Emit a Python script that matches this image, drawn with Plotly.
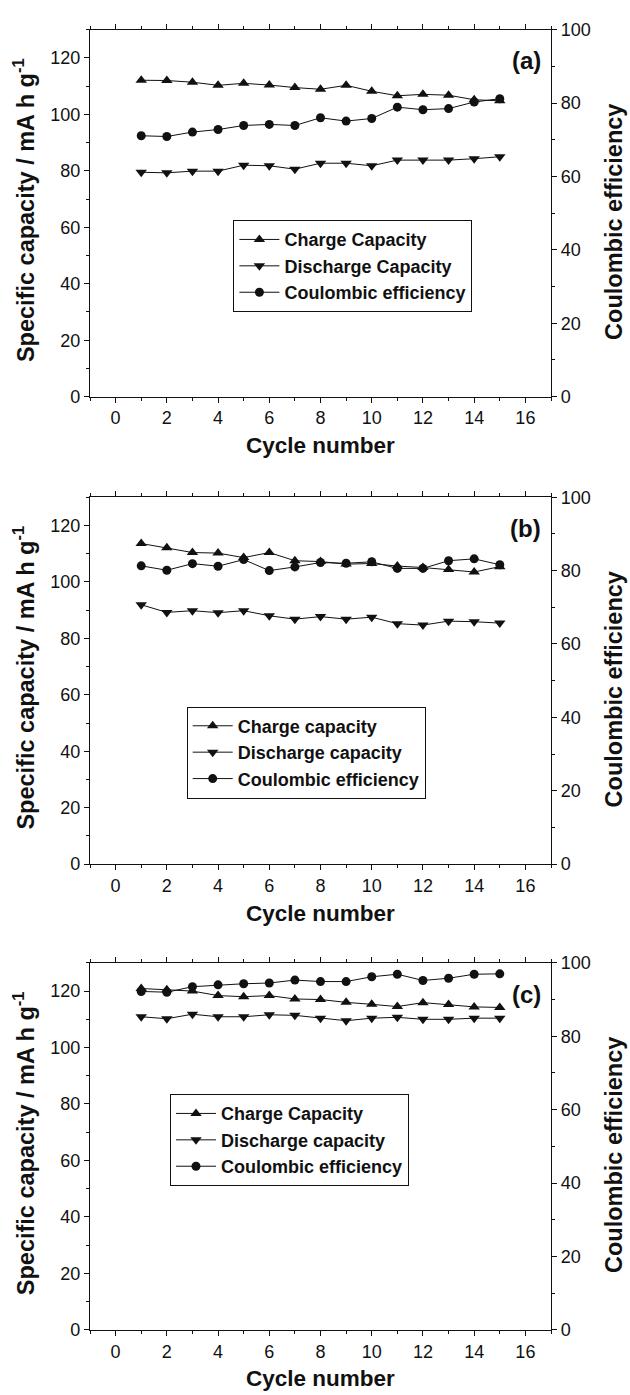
import plotly.graph_objects as go

cycles = list(range(1, 16))

# Panel (a)
charge_a = [112.1, 112.0, 111.4, 110.3, 111.0, 110.4, 109.5, 108.9, 110.3, 108.2, 106.6, 107.1, 106.8, 105.2, 104.8]
discharge_a = [79.5, 79.3, 79.9, 79.9, 82.0, 81.8, 80.6, 82.7, 82.7, 81.8, 83.8, 83.8, 83.8, 84.3, 85.0]
ce_a = [71.1, 70.9, 72.1, 72.8, 73.9, 74.2, 73.9, 76.0, 75.1, 75.8, 78.9, 78.2, 78.5, 80.3, 81.2]

# Panel (b)
charge_b = [113.6, 112.1, 110.4, 110.2, 108.6, 110.4, 107.5, 107.2, 106.3, 106.5, 105.6, 105.1, 104.4, 103.5, 105.4]
discharge_b = [91.9, 89.2, 89.8, 89.1, 89.8, 88.0, 86.8, 87.7, 86.8, 87.5, 85.2, 84.7, 86.1, 85.9, 85.4]
ce_b = [81.3, 80.1, 81.9, 81.2, 83.0, 80.0, 81.0, 82.2, 82.0, 82.4, 80.6, 80.6, 82.7, 83.2, 81.6]

# Panel (c)
charge_c = [120.9, 120.5, 120.0, 118.4, 118.0, 118.4, 117.2, 117.0, 116.0, 115.3, 114.5, 115.9, 115.2, 114.4, 114.2]
discharge_c = [110.9, 110.2, 111.8, 110.9, 110.9, 111.6, 111.4, 110.4, 109.5, 110.4, 110.7, 110.0, 110.0, 110.4, 110.4]
ce_c = [92.2, 92.0, 93.5, 94.0, 94.3, 94.5, 95.3, 94.9, 94.9, 96.2, 96.9, 95.2, 95.8, 96.9, 97.0]

names_a = ["Charge Capacity", "Discharge Capacity", "Coulombic efficiency"]
names_b = ["Charge capacity", "Discharge capacity", "Coulombic efficiency"]
names_c = ["Charge Capacity", "Discharge capacity", "Coulombic efficiency"]
panel_labels = ["(a)", "(b)", "(c)"]

x_title = "Cycle number"
y_left_title = "Specific capacity / mA h g<sup>-1</sup>"
y_right_title = "Coulombic efficiency"

W, H = 630, 1395
FONT = "Liberation Sans, Arial, Helvetica, sans-serif"
INK = "#111111"

def py(px):
    return 1 - px / H

def pxx(px):
    return px / W

# pixel geometry of panels
plot_left, plot_right = 90, 551
panel_tops = [20, 494.3, 966.7]
panel_h = 372.3

fig = go.Figure()

panels = [
    (charge_a, discharge_a, ce_a, names_a),
    (charge_b, discharge_b, ce_b, names_b),
    (charge_c, discharge_c, ce_c, names_c),
]

legend_pos = [(233.4, 213.3), (186.7, 706.7), (170.0, 1100.0)]

for i, (ch, dis, ce, names) in enumerate(panels):
    xa = "x" if i == 0 else f"x{i+1}"
    yl = "y" if i == 0 else f"y{2*i+1}"
    yr = f"y{2*i+2}"
    lg = "legend" if i == 0 else f"legend{i+1}"
    line = dict(color=INK, width=1)
    fig.add_trace(go.Scatter(x=cycles, y=ch, name=names[0], mode="lines+markers",
                             xaxis=xa, yaxis=yl, legend=lg, line=line,
                             marker=dict(symbol="triangle-up", size=10, color=INK)))
    fig.add_trace(go.Scatter(x=cycles, y=dis, name=names[1], mode="lines+markers",
                             xaxis=xa, yaxis=yl, legend=lg, line=line,
                             marker=dict(symbol="triangle-down", size=10, color=INK)))
    fig.add_trace(go.Scatter(x=cycles, y=ce, name=names[2], mode="lines+markers",
                             xaxis=xa, yaxis=yr, legend=lg, line=line,
                             marker=dict(symbol="circle", size=9, color=INK)))

axis_common = dict(showgrid=False, zeroline=False, showline=True, linecolor=INK, linewidth=1.3,
                   ticks="outside", ticklen=5, tickwidth=1.2, tickcolor=INK,
                   tickfont=dict(family=FONT, size=18, color=INK))

layout = dict(width=W, height=H, margin=dict(l=0, r=0, t=0, b=0),
              paper_bgcolor="white", plot_bgcolor="white", showlegend=True)

annotations = []
for i in range(3):
    top = panel_tops[i]
    bottom = top + panel_h
    dom = [py(bottom), py(top)]
    xkey = "xaxis" if i == 0 else f"xaxis{i+1}"
    ylkey = "yaxis" if i == 0 else f"yaxis{2*i+1}"
    yrkey = f"yaxis{2*i+2}"
    xname = "x" if i == 0 else f"x{i+1}"
    ylname = "y" if i == 0 else f"y{2*i+1}"
    layout[xkey] = dict(axis_common, domain=[pxx(plot_left), pxx(plot_right)], range=[-1, 17],
                        dtick=2, tick0=0, mirror="ticks", anchor=ylname,
                        minor=dict(dtick=1, tick0=0, ticklen=3, tickwidth=1.1, tickcolor=INK, ticks="outside"))
    layout[ylkey] = dict(axis_common, domain=dom, range=[0, 130], dtick=20, tick0=0, anchor=xname,
                         minor=dict(dtick=10, tick0=0, ticklen=3, tickwidth=1.1, tickcolor=INK, ticks="outside"))
    layout[yrkey] = dict(axis_common, domain=dom, range=[0, 100], dtick=20, tick0=0, anchor=xname,
                         overlaying=ylname, side="right",
                         minor=dict(dtick=10, tick0=0, ticklen=3, tickwidth=1.1, tickcolor=INK, ticks="outside"))
    lgkey = "legend" if i == 0 else f"legend{i+1}"
    lx, ly = legend_pos[i]
    layout[lgkey] = dict(x=pxx(lx), y=py(ly), xanchor="left", yanchor="top",
                         bgcolor="white", bordercolor=INK, borderwidth=1,
                         font=dict(family=FONT, size=18, color=INK, weight="bold"),
                         itemwidth=40, tracegroupgap=0)
    off = top - 20
    # panel label
    annotations.append(dict(text="<b>%s</b>" % panel_labels[i], x=pxx(543), y=py(51.7 + off),
                            xref="paper", yref="paper", xanchor="right", yanchor="middle",
                            showarrow=False, font=dict(family=FONT, size=24, color=INK)))
    # axis titles
    annotations.append(dict(text="<b>%s</b>" % x_title, x=pxx(320.5), y=py(442 + off),
                            xref="paper", yref="paper", xanchor="center", yanchor="middle",
                            showarrow=False, font=dict(family=FONT, size=22.5, color=INK)))
    annotations.append(dict(text="<b>%s</b>" % y_left_title, x=pxx(24), y=py(203 + off),
                            xref="paper", yref="paper", xanchor="center", yanchor="middle",
                            textangle=-90, showarrow=False, font=dict(family=FONT, size=23.5, color=INK)))
    annotations.append(dict(text="<b>%s</b>" % y_right_title, x=pxx(614), y=py(215 + off),
                            xref="paper", yref="paper", xanchor="center", yanchor="middle",
                            textangle=-90, showarrow=False, font=dict(family=FONT, size=23.5, color=INK)))

layout["annotations"] = annotations
fig.update_layout(**layout)
fig.write_html("out.html")
